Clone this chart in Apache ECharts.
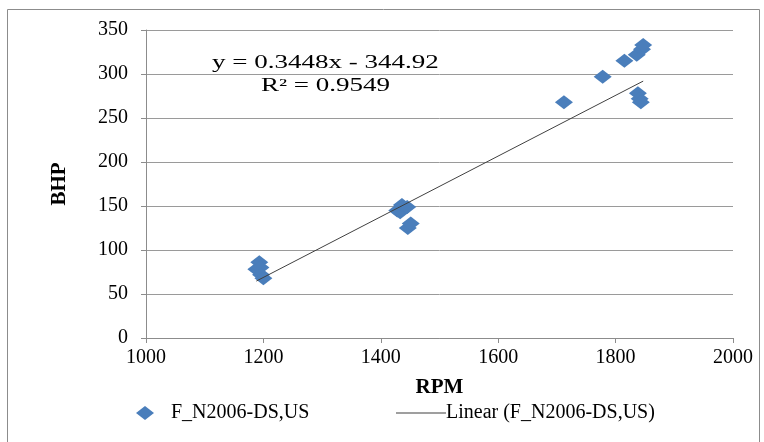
<!DOCTYPE html>
<html><head><meta charset="utf-8">
<script src="https://cdn.jsdelivr.net/npm/echarts@6/dist/echarts.min.js"></script>
<style>html,body{margin:0;padding:0;background:#fff}#c{width:764px;height:442px}</style>
</head><body><div id="c"></div>
<script>
const rpm = [1188,1193,1195,1196,1200, 1428,1433,1436,1445,1446,1451, 1712,1778,1815,1836,1845,1847,1838,1841,1843];
const bhp = [78,86,80,72,68, 145,143,151,149,125,130, 268,297,315,322,328,333,278,272,268];
const slope = 0.3448, intercept = -344.92;
const seriesName = 'F_N2006-DS,US';
const trendName = 'Linear (F_N2006-DS,US)';
const xTicks = [1000,1200,1400,1600,1800,2000];
const yTicks = [0,50,100,150,200,250,300,350];

const pts = rpm.map((x,i)=>[x,bhp[i]]);
const xmin = Math.min(...rpm), xmax = Math.max(...rpm);
const trend = [[xmin, slope*xmin+intercept],[xmax, slope*xmax+intercept]];
const font = '"Liberation Serif","Times New Roman",serif';
const chart = echarts.init(document.getElementById('c'));
chart.setOption({
  animation:false,
  textStyle:{fontFamily:font},
  grid:{left:146,right:31,top:30,bottom:104},
  xAxis:{type:'value',min:xTicks[0],max:xTicks[xTicks.length-1],interval:200,
    name:'RPM',nameLocation:'middle',nameGap:39,
    nameTextStyle:{fontFamily:font,fontSize:21,fontWeight:'bold',color:'#000'},
    axisLine:{lineStyle:{color:'#8c8c8c'}},axisTick:{show:true,length:5,lineStyle:{color:'#8c8c8c'}},
    axisLabel:{fontFamily:font,fontSize:20,color:'#000',margin:10,formatter:v=>String(v)},
    splitLine:{show:false}},
  yAxis:{type:'value',min:yTicks[0],max:yTicks[yTicks.length-1],interval:50,
    name:'BHP',nameLocation:'middle',nameGap:76,
    nameTextStyle:{fontFamily:font,fontSize:21,fontWeight:'bold',color:'#000'},
    axisLine:{show:true,lineStyle:{color:'#8c8c8c'}},axisTick:{show:true,length:5,lineStyle:{color:'#8c8c8c'}},
    axisLabel:{fontFamily:font,fontSize:20,color:'#000',margin:18,formatter:v=>String(v)},
    splitLine:{lineStyle:{color:'#9a9a9a',width:1}}},
  legend:[
    {data:[{name:seriesName,icon:'diamond'}],left:131,top:398,itemWidth:18,itemHeight:14,
     textStyle:{fontFamily:font,fontSize:20,color:'#000',padding:[0,0,0,12]}},
    {data:[{name:trendName,icon:'rect'}],left:391,top:398,itemWidth:50,itemHeight:1,
     textStyle:{fontFamily:font,fontSize:20,color:'#000',padding:[0,0,0,-5]}}
  ],
  graphic:[
    {type:'rect',left:5,top:7,shape:{width:752,height:445},style:{fill:'none',stroke:'#8c8c8c',lineWidth:1},silent:true},
    {type:'text',x:212,y:54,scaleX:1.5,style:{text:'y = 0.3448x - 344.92',font:'18px '+font,fill:'#000'}},
    {type:'text',x:261,y:77,scaleX:1.5,style:{text:'R² = 0.9549',font:'18px '+font,fill:'#000'}}
  ],
  series:[
    {name:seriesName,type:'scatter',data:pts,symbol:'diamond',symbolSize:[18,14],
     itemStyle:{color:'#4A7EBB',opacity:1},z:2},
    {name:trendName,type:'line',data:trend,symbol:'none',showSymbol:false,
     lineStyle:{color:'#404040',width:1},itemStyle:{color:'#404040'},z:3}
  ]
});
</script></body></html>
